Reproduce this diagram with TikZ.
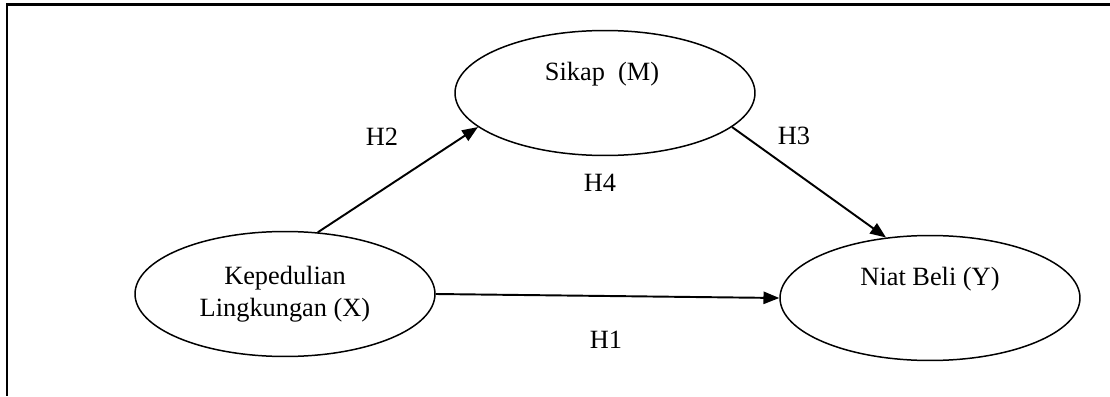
\documentclass[tikz,border=0pt]{standalone}
\usepackage{fontspec}
\setmainfont{Liberation Serif}
\usepackage{tikz}
\usetikzlibrary{shapes.geometric,arrows.meta}
\tikzset{
    konstruk/.style={ellipse,draw,line width=0.85pt,minimum width=6cm,minimum height=2.5cm,inner sep=0pt},
    panah/.style={line width=1.1pt,-{Triangle[length=9pt,width=7pt]}},
    hip/.style={inner sep=0pt}
}

\begin{document}
\begin{tikzpicture}[x=0.02cm,y=-0.02cm,font=\fontsize{15}{18}\selectfont]
                            \useasboundingbox (0,0) rectangle (1110,396);
                            \draw[line width=1.2pt] (1110,4.5) -- (7,4.5) -- (7,396);
                            \node[konstruk] (sikap) at (605,93) {};
                            \node[konstruk,align=center] (kep) at (285,294) {Kepedulian\\Lingkungan (X)};
                            \node[konstruk] (niat) at (930,298) {};
                            \node[hip] (tsikap) at (602,74) {Sikap\ \ (M)};
                            \node[hip] (tniat) at (930,279) {Niat Beli (Y)};
                            \draw[panah] (kep.62) -- (sikap.195);
                            \draw[panah] (sikap.345) -- (niat.126);
                            \draw[panah] (kep.east) -- (niat.west);
                            \node[hip] (h2) at (382,137) {H2};
                            \node[hip] (h3) at (794,136) {H3};
                            \node[hip] (h4) at (600,183) {H4};
                            \node[hip] (h1) at (606,340) {H1};
                        \end{tikzpicture}
\end{document}
